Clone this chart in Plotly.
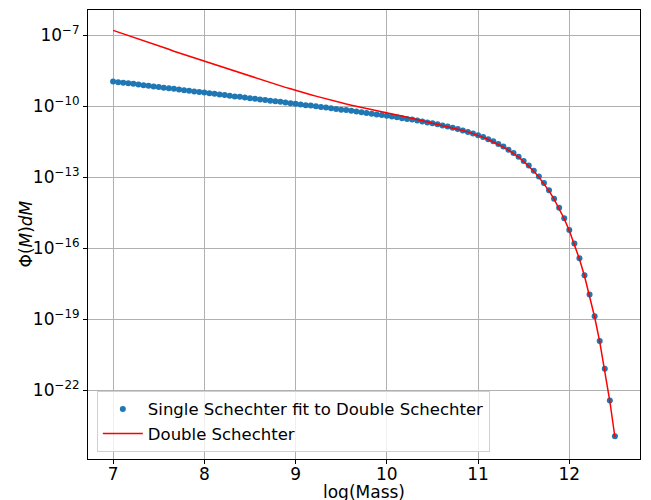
import numpy as np
import plotly.graph_objects as go

# log(Mass) sample points
log_mass = np.linspace(7, 12.5, 100)

# log10 of Phi(M)dM
single_fit_log10 = [
    -8.95, -8.98, -9.00, -9.03, -9.05, -9.08, -9.11, -9.13, -9.16, -9.18,
    -9.21, -9.24, -9.26, -9.29, -9.32, -9.34, -9.37, -9.39, -9.42, -9.45,
    -9.47, -9.50, -9.52, -9.55, -9.58, -9.60, -9.63, -9.66, -9.68, -9.71,
    -9.73, -9.76, -9.79, -9.81, -9.84, -9.87, -9.89, -9.92, -9.95, -9.97,
    -10.00, -10.03, -10.05, -10.08, -10.11, -10.14, -10.16, -10.19, -10.22, -10.25,
    -10.28, -10.31, -10.34, -10.37, -10.40, -10.43, -10.46, -10.50, -10.53, -10.56,
    -10.60, -10.64, -10.68, -10.72, -10.76, -10.81, -10.85, -10.91, -10.96, -11.02,
    -11.08, -11.15, -11.22, -11.30, -11.39, -11.48, -11.59, -11.70, -11.83, -11.97,
    -12.13, -12.31, -12.50, -12.72, -12.96, -13.24, -13.55, -13.90, -14.29, -14.73,
    -15.22, -15.79, -16.42, -17.14, -17.95, -18.87, -19.91, -21.09, -22.43, -23.94,
]

double_log10 = [
    -6.79, -6.86, -6.93, -7.01, -7.08, -7.15, -7.23, -7.30, -7.37, -7.45,
    -7.52, -7.59, -7.67, -7.74, -7.81, -7.88, -7.96, -8.03, -8.10, -8.17,
    -8.24, -8.31, -8.39, -8.46, -8.53, -8.60, -8.67, -8.73, -8.80, -8.87,
    -8.94, -9.00, -9.07, -9.14, -9.20, -9.26, -9.33, -9.39, -9.45, -9.51,
    -9.57, -9.63, -9.68, -9.74, -9.79, -9.85, -9.90, -9.95, -10.00, -10.05,
    -10.10, -10.14, -10.19, -10.24, -10.28, -10.33, -10.37, -10.41, -10.46, -10.50,
    -10.55, -10.59, -10.64, -10.69, -10.74, -10.79, -10.84, -10.90, -10.95, -11.02,
    -11.08, -11.15, -11.23, -11.31, -11.40, -11.50, -11.60, -11.72, -11.85, -11.99,
    -12.15, -12.33, -12.52, -12.74, -12.99, -13.26, -13.57, -13.92, -14.31, -14.75,
    -15.25, -15.81, -16.45, -17.17, -17.98, -18.90, -19.94, -21.12, -22.46, -23.97,
]

x_tick_vals = [7, 8, 9, 10, 11, 12]
y_tick_exps = [-7, -10, -13, -16, -19, -22]

single_fit = 10.0 ** np.array(single_fit_log10)
double = 10.0 ** np.array(double_log10)

FONT = "DejaVu Sans"

fig = go.Figure()
fig.add_trace(go.Scatter(
    x=log_mass, y=single_fit, mode="markers",
    marker=dict(color="#1f77b4", size=6, line=dict(width=0)),
    name="Single Schechter fit to Double Schechter",
))
fig.add_trace(go.Scatter(
    x=log_mass, y=double, mode="lines",
    line=dict(color="#ff0000", width=1.5),
    name="Double Schechter",
))

axis_common = dict(
    showline=True, linecolor="black", linewidth=1, mirror=True,
    showgrid=True, gridcolor="#b0b0b0", gridwidth=0.8,
    ticks="outside", ticklen=4, tickwidth=1, tickcolor="black",
    zeroline=False, automargin=False,
    tickfont=dict(family=FONT, size=17, color="black"),
)

fig.update_xaxes(
    range=[6.725, 12.775],
    tickvals=x_tick_vals, ticktext=[str(v) for v in x_tick_vals],
    **axis_common,
)
fig.update_yaxes(
    type="log", range=[-24.9, -5.93],
    tickvals=[10.0 ** e for e in y_tick_exps],
    ticktext=["10<sup>\u2212%d</sup>" % (-e) for e in y_tick_exps],
    **axis_common,
)
try:
    fig.update_xaxes(ticklabelstandoff=-4)
except Exception:
    pass

PLOT_H = 449.0
PLOT_W = 552.0
fig.add_annotation(
    text="log(Mass)", xref="paper", yref="paper",
    x=0.5, y=-(492 - 459) / PLOT_H, xanchor="center", yanchor="middle",
    showarrow=False, font=dict(family=FONT, size=17, color="black"),
)
fig.add_annotation(
    text="\u03a6(<i>M</i>)<i>dM</i>", xref="paper", yref="paper",
    x=-(88 - 25) / PLOT_W, y=0.5, xanchor="center", yanchor="middle",
    textangle=-90, showarrow=False, font=dict(family=FONT, size=17, color="black"),
)

# the page body has an 8px default margin, so the figure is sized to fit the window
fig.update_layout(
    width=643, height=492,
    margin=dict(l=80, r=11, t=2, b=41),
    paper_bgcolor="white", plot_bgcolor="white",
    font=dict(family=FONT, size=17, color="black"),
    showlegend=True,
    legend=dict(
        x=0.016, y=0.016, xanchor="left", yanchor="bottom",
        bgcolor="rgba(255,255,255,0.8)", bordercolor="#d0d0d0", borderwidth=1,
        font=dict(family=FONT, size=16.5, color="black"),
        itemwidth=40, tracegroupgap=0,
    ),
)

fig.write_html("out.html")
